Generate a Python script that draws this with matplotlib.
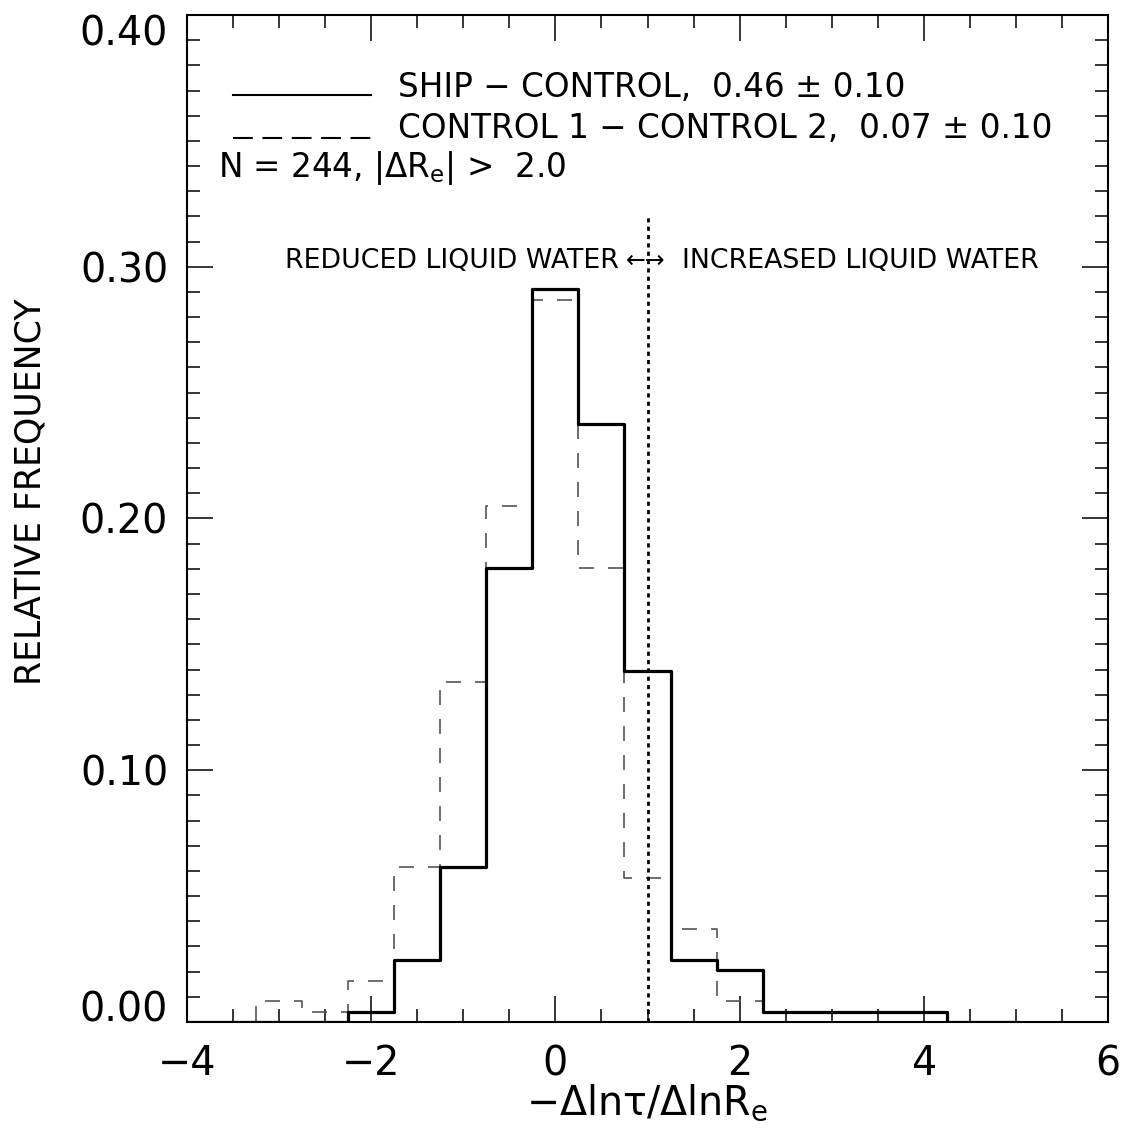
"""Histogram of -dln(tau)/dln(Re): ship minus control vs control 1 minus control 2."""
import matplotlib
matplotlib.use("Agg")
import matplotlib.pyplot as plt
from matplotlib import font_manager
from matplotlib.ticker import MultipleLocator, FormatStrFormatter

plt.rcParams["font.family"] = ["DejaVu Sans"]
plt.rcParams["mathtext.default"] = "regular"
plt.rcParams["axes.unicode_minus"] = True

# bin centres (width 0.5) and counts out of N = 244
N = 244
centers = [-4.5, -4.0, -3.5, -3.0, -2.5, -2.0, -1.5, -1.0, -0.5, 0.0,
           0.5, 1.0, 1.5, 2.0, 2.5, 3.0, 3.5, 4.0, 4.5, 5.0]
ship_counts = [0, 0, 0, 0, 0, 1, 6, 15, 44, 71,
               58, 34, 6, 5, 1, 1, 1, 1, 0, 0]
ctrl_counts = [0, 0, 0, 2, 1, 4, 15, 33, 50, 70,
               44, 14, 9, 2, 0, 0, 0, 0, 0, 0]

ship_label = "SHIP \u2212 CONTROL,  0.46 \u00b1 0.10"
ctrl_label = "CONTROL 1 \u2212 CONTROL 2,  0.07 \u00b1 0.10"
n_label = "N = 244, |\u0394R$_e$| >  2.0"
left_label = "REDUCED LIQUID WATER"
right_label = "INCREASED LIQUID WATER"
arrow_label = "\u2190\u2192"
threshold = 1.0
threshold_top = 0.32

ship = [c / N for c in ship_counts]
ctrl = [c / N for c in ctrl_counts]

# narrow face for the water labels if it is there
installed = {f.name for f in font_manager.fontManager.ttflist}
if "Liberation Sans Narrow" in installed:
    water_font = ["Liberation Sans Narrow", "DejaVu Sans"]
    water_fs = 23
else:
    water_font = ["DejaVu Sans"]
    water_fs = 19.3

fig = plt.figure(figsize=(11.22, 11.47), dpi=100)
ax = fig.add_axes([187 / 1122, 1 - 1022 / 1147, 921 / 1122, 1007 / 1147])

dash_col = "#555555"
ax.step(centers, ctrl, where="mid", color=dash_col, lw=1.2,
        linestyle=(0, (9, 8.4)), zorder=2)
ax.step(centers, ship, where="mid", color="black", lw=2.3, zorder=3)
ax.plot([threshold, threshold], [0, threshold_top], color="black", lw=2.0,
        linestyle=(0, (1.5, 1.5)), zorder=4)

ax.set_xlim(-4, 6)
ax.set_ylim(0, 0.40)
ax.xaxis.set_major_locator(MultipleLocator(2))
ax.xaxis.set_minor_locator(MultipleLocator(0.5))
ax.yaxis.set_major_locator(MultipleLocator(0.1))
ax.yaxis.set_minor_locator(MultipleLocator(0.01))
ax.yaxis.set_major_formatter(FormatStrFormatter("%.2f"))
ax.tick_params(which="both", direction="in", top=True, right=True,
               labelsize=28.5, width=1.1)
ax.tick_params(which="major", length=19)
ax.tick_params(which="minor", length=9.5)
ax.tick_params(axis="y", pad=13.5)
ax.tick_params(axis="x", pad=16)
for s in ax.spines.values():
    s.set_linewidth(1.5)

ax.set_xlabel("\u2212\u0394ln\u03c4/\u0394lnR$_e$", fontsize=28.5)
ax.xaxis.set_label_coords(0.5, -0.060)
ax.set_ylabel("RELATIVE FREQUENCY", fontsize=25, va="center")
ax.yaxis.set_label_coords(-0.170, 0.527)

fs = 23.5
ax.plot([-3.5, -2.0], [0.3683, 0.3683], color="black", lw=1.5)
ax.text(-1.71, 0.3675, ship_label, fontsize=fs, va="baseline")
ax.plot([-3.5, -2.0], [0.3512, 0.3512], color="black", lw=1.5,
        linestyle=(0, (9.5, 4.6)))
ax.text(-1.71, 0.3512, ctrl_label, fontsize=fs, va="baseline")
ax.text(-3.66, 0.3357, n_label, fontsize=fs, va="baseline")

ax.text(0.69, 0.2996, left_label, fontsize=water_fs, family=water_font,
        ha="right", va="baseline")
ax.text(0.98, 0.2996, arrow_label, fontsize=17, ha="center", va="baseline")
ax.text(1.37, 0.2996, right_label, fontsize=water_fs, family=water_font,
        ha="left", va="baseline")

fig.canvas.draw()
for tick in ax.yaxis.get_major_ticks():
    loc = tick.get_loc()
    if abs(loc) < 1e-9:
        tick.label1.set_va("baseline")
    elif abs(loc - 0.4) < 1e-9:
        tick.label1.set_va("top")

fig.savefig("out.png", dpi=100)
